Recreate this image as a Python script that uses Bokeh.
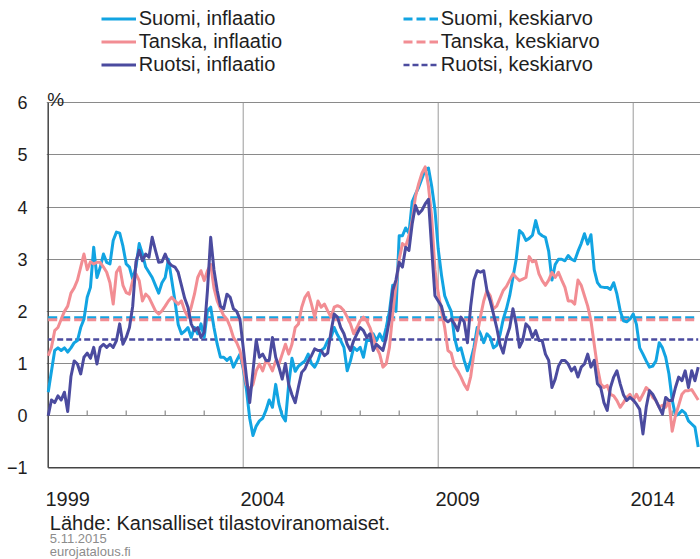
from bokeh.plotting import figure
from bokeh.models import Range1d, FixedTicker, Label, Legend, LegendItem
from bokeh.core.properties import value
from bokeh.embed import file_html
from bokeh.resources import INLINE

# ---------------- data (monthly y/y inflation, %, Jan 1999 - Sep 2015) ----------------
START_YEAR = 1999

suomi = [
    0.45, 0.85, 1.25, 1.3, 1.25, 1.3, 1.22, 1.3, 1.4, 1.44, 1.69, 1.85,      # 1999
    2.27, 2.46, 3.23, 2.65, 2.84, 3.1, 2.94, 2.91, 3.36, 3.52, 3.5, 3.25,    # 2000
    2.91, 2.85, 2.62, 2.85, 3.3, 3.1, 2.85, 2.75, 2.65, 2.5, 2.35, 2.55,     # 2001
    2.65, 3.0, 2.6, 2.2, 1.75, 1.57, 1.62, 1.69, 1.5, 1.69, 1.57, 1.76,      # 2002
    1.5, 2.01, 2.08, 1.69, 1.37, 1.12, 1.12, 1.06, 1.12, 0.93, 1.06, 1.18,   # 2003
    0.9, 0.5, -0.05, -0.38, -0.2, -0.1, -0.05, 0.1, 0.3, 0.16, 0.6, 0.22,    # 2004
    0.0, -0.1, 0.6, 1.1, 0.85, 0.95, 1.0, 1.05, 1.18, 1.0, 0.93, 1.05,       # 2005
    1.25, 1.3, 1.44, 1.5, 1.69, 1.55, 1.44, 1.31, 0.86, 1.05, 1.31, 1.25,    # 2006
    1.31, 1.12, 1.44, 1.44, 1.57, 1.44, 1.57, 1.44, 1.69, 2.0, 2.5, 2.0,     # 2007
    3.45, 3.45, 3.6, 3.5, 4.1, 4.25, 4.38, 4.55, 4.72, 4.75, 4.4, 3.95,      # 2008
    3.2, 2.7, 2.3, 2.14, 2.0, 1.5, 1.25, 1.3, 1.06, 0.86, 1.06, 1.31,        # 2009
    1.69, 1.57, 1.4, 1.57, 1.5, 1.3, 1.35, 1.55, 1.85, 2.05, 2.3, 2.65,      # 2010
    3.0, 3.55, 3.49, 3.36, 3.4, 3.46, 3.74, 3.5, 3.45, 3.42, 3.15, 2.6,      # 2011
    2.9, 3.0, 3.0, 2.97, 3.07, 3.0, 2.97, 3.15, 3.3, 3.49, 3.29, 3.47,       # 2012
    2.8, 2.55, 2.47, 2.46, 2.46, 2.42, 2.55, 2.33, 2.01, 1.82, 1.8, 1.85,    # 2013
    1.95, 1.75, 1.3, 1.18, 1.05, 0.93, 0.95, 1.05, 1.4, 1.3, 1.12, 0.8,      # 2014
    0.3, 0.0, 0.03, 0.1, 0.05, -0.1, -0.16, -0.22, -0.6,                     # 2015
]

tanska = [
    1.15, 1.31, 1.63, 1.69, 1.85, 2.0, 2.1, 2.35, 2.45, 2.6, 2.85, 3.1,      # 1999
    2.8, 2.95, 2.91, 2.94, 2.94, 2.85, 2.75, 2.55, 2.14, 2.75, 2.85, 2.5,    # 2000
    2.36, 2.33, 2.59, 2.72, 2.59, 2.2, 2.33, 2.27, 2.14, 2.01, 1.95, 2.01,   # 2001
    2.1, 2.2, 2.27, 2.2, 2.14, 2.2, 2.01, 1.89, 2.08, 2.33, 2.65, 2.78,      # 2002
    2.59, 2.78, 2.9, 2.45, 2.2, 2.05, 1.92, 1.85, 1.7, 1.5, 1.4, 1.25,       # 2003
    0.95, 0.6, 0.5, 0.6, 0.86, 0.99, 0.86, 1.05, 0.99, 0.86, 1.05, 0.99,     # 2004
    1.18, 1.37, 1.18, 1.37, 1.69, 1.76, 2.08, 2.27, 2.36, 2.14, 1.89, 2.2,   # 2005
    2.08, 2.14, 2.01, 1.89, 2.08, 2.11, 2.08, 2.01, 1.89, 1.76, 1.57, 1.69,  # 2006
    1.82, 1.89, 1.82, 1.69, 1.5, 1.31, 1.18, 0.93, 0.99, 1.31, 1.95, 2.5,    # 2007
    3.0, 3.3, 3.25, 3.45, 3.75, 4.2, 4.45, 4.65, 4.77, 4.4, 3.8, 2.8,        # 2008
    2.35, 2.01, 1.69, 1.25, 1.2, 0.95, 0.86, 0.74, 0.6, 0.5, 0.75, 1.2,      # 2009
    1.55, 1.9, 2.2, 2.4, 2.3, 2.05, 2.1, 2.25, 2.4, 2.48, 2.6, 2.72,         # 2010
    2.65, 2.59, 2.62, 2.65, 3.05, 2.95, 2.97, 2.72, 2.59, 2.5, 2.6, 2.75,    # 2011
    2.65, 2.75, 2.6, 2.46, 2.2, 2.2, 2.14, 2.6, 2.5, 2.3, 2.1, 1.82,         # 2012
    1.37, 0.93, 0.61, 0.54, 0.58, 0.41, 0.38, 0.29, 0.16, 0.25, 0.35, 0.41,  # 2013
    0.29, 0.41, 0.29, 0.41, 0.54, 0.48, 0.35, 0.29, 0.16, 0.2, 0.16, 0.29,   # 2014
    -0.3, 0.0, 0.2, 0.41, 0.48, 0.48, 0.5, 0.4, 0.3,                         # 2015
]

ruotsi = [
    0.0, 0.3, 0.25, 0.38, 0.3, 0.45, 0.08, 0.75, 1.05, 0.99, 0.8, 1.12,      # 1999
    1.2, 1.1, 1.31, 0.99, 1.31, 1.37, 1.31, 1.37, 1.31, 1.44, 1.76, 1.37,    # 2000
    1.5, 1.69, 2.1, 2.95, 3.17, 2.97, 3.1, 3.04, 3.42, 3.17, 2.94, 2.95,     # 2001
    3.1, 2.94, 2.88, 2.85, 2.75, 2.5, 2.25, 2.08, 1.76, 1.63, 1.69, 1.5,     # 2002
    1.6, 2.4, 3.42, 2.8, 2.4, 2.1, 2.05, 2.33, 2.27, 2.05, 2.0, 1.85,        # 2003
    1.31, 0.74, 0.25, 0.85, 1.45, 1.12, 1.18, 1.06, 1.06, 1.5, 1.12, 0.93,   # 2004
    0.7, 1.0, 0.6, 0.4, 0.25, 0.55, 0.83, 0.9, 1.05, 1.15, 1.28, 1.25,       # 2005
    1.25, 1.15, 1.2, 1.6, 1.95, 1.89, 1.69, 1.57, 1.37, 1.25, 1.44, 1.57,    # 2006
    1.69, 1.63, 1.5, 1.57, 1.25, 1.37, 1.31, 1.25, 1.5, 1.85, 2.4, 2.6,      # 2007
    2.94, 2.85, 3.23, 3.17, 3.68, 4.03, 3.87, 3.94, 4.06, 4.15, 3.2, 2.3,    # 2008
    2.2, 2.1, 1.85, 1.8, 1.85, 1.76, 1.63, 1.89, 1.8, 1.4, 2.1, 2.6,         # 2009
    2.78, 2.75, 2.78, 2.4, 2.2, 1.95, 1.69, 1.37, 1.2, 1.5, 1.69, 2.05,      # 2010
    1.75, 1.31, 1.44, 1.76, 1.69, 1.5, 1.63, 1.44, 1.44, 1.18, 1.06, 0.54,   # 2011
    0.7, 0.95, 1.06, 1.06, 0.99, 0.86, 0.93, 0.74, 0.93, 0.99, 1.18, 0.93,   # 2012
    1.06, 0.61, 0.54, 0.25, 0.1, 0.54, 0.74, 0.86, 0.61, 0.4, 0.29, 0.35,    # 2013
    0.3, 0.22, 0.12, -0.35, 0.16, 0.48, 0.41, 0.29, 0.16, 0.03, 0.35, 0.29,  # 2014
    0.29, 0.54, 0.74, 0.67, 0.86, 0.54, 0.86, 0.67, 0.93,                    # 2015
]

# period averages (dashed lines)
suomi_mean = 1.88
tanska_mean = 1.84
ruotsi_mean = 1.46

label_years = [1999, 2004, 2009, 2014]
grid_years = [2004, 2009, 2014]
y_ticks = [-1, 0, 1, 2, 3, 4, 5, 6]

legend_inflation = ["Suomi, inflaatio", "Tanska, inflaatio", "Ruotsi, inflaatio"]
legend_mean = ["Suomi, keskiarvo", "Tanska, keskiarvo", "Ruotsi, keskiarvo"]

source_text = "Lähde: Kansalliset tilastoviranomaiset."
date_text = "5.11.2015"
site_text = "eurojatalous.fi"

# ---------------- styling / layout ----------------
C_FI = "#12A4E2"
C_DK = "#F28D93"
C_SE = "#4B4B9F"
FONT = "Liberation Sans"
TEXT = "#1e1e1e"
GRID = "#8a8a8a"
AXIS = "#444444"

W, H = 700, 559
LEFT = 46                       # frame left edge (px)
PX_PER_UNIT = 52.14             # vertical pixels per percentage point
PX_PER_YEAR = 39.0              # horizontal pixels per year
Y_MIN, Y_MAX = -1, 6
TOP_PX, BOTTOM_PX = 102.3, 467.3   # where 6 and -1 sit on the page
Y_HIGH = Y_MAX + TOP_PX / PX_PER_UNIT
Y_LOW = Y_MIN - (H - BOTTOM_PX) / PX_PER_UNIT
X_LOW = START_YEAR - 1.7 / PX_PER_YEAR
X_HIGH = X_LOW + (W - LEFT) / PX_PER_YEAR
X_LABEL_Y = Y_MIN - 31.0 / PX_PER_UNIT

months = [START_YEAR + i / 12.0 for i in range(len(suomi))]

p = figure(width=W, height=H, x_range=Range1d(X_LOW, X_HIGH),
           y_range=Range1d(Y_LOW, Y_HIGH), output_backend="svg",
           toolbar_location=None, x_axis_location=None,
           min_border_left=LEFT, min_border_right=0, min_border_top=0,
           min_border_bottom=0, title=None)
p.outline_line_color = None
p.background_fill_color = "white"
p.border_fill_color = "white"

# y axis (labels only; the axis line is drawn over the value range below)
p.yaxis.ticker = FixedTicker(ticks=y_ticks)
p.yaxis.major_tick_out = 0
p.yaxis.major_tick_in = 0
p.yaxis.minor_tick_out = 0
p.yaxis.minor_tick_in = 0
p.yaxis.axis_line_color = None
p.yaxis.major_label_text_font = FONT
p.yaxis.major_label_text_font_size = "18px"
p.yaxis.major_label_text_color = TEXT
p.yaxis.major_label_standoff = 19

# horizontal grid (including top border at 6)
p.ygrid.ticker = FixedTicker(ticks=[t for t in y_ticks if t >= 0])
p.ygrid.grid_line_color = GRID
p.ygrid.grid_line_width = 1.2
p.xgrid.visible = False

# vertical grid lines at 5-year marks, limited to the value range
p.segment(x0=grid_years, y0=[Y_MIN] * len(grid_years), x1=grid_years,
          y1=[Y_MAX] * len(grid_years), line_color="#9a9a9a", line_width=1)

# small year ticks on the zero line
minor_years = [y for y in range(START_YEAR + 1, 2016) if y not in grid_years]
p.segment(x0=minor_years, y0=[0] * len(minor_years), x1=minor_years,
          y1=[0.1] * len(minor_years), line_color=GRID, line_width=1.2)

# axis lines
p.segment(x0=[START_YEAR], y0=[Y_MIN], x1=[START_YEAR], y1=[Y_MAX],
          line_color=AXIS, line_width=1.5)
p.segment(x0=[START_YEAR], y0=[Y_MIN], x1=[X_HIGH], y1=[Y_MIN],
          line_color=AXIS, line_width=1.5)

# x labels centred in the year
p.text(x=[y + 0.5 for y in label_years], y=[X_LABEL_Y] * len(label_years),
       text=[str(y) for y in label_years], text_font=value(FONT),
       text_font_size="20px", text_color=TEXT, text_align="center",
       text_baseline="alphabetic")

# mean lines
xs_mean = [months[0], months[-1]]
r_fi_m = p.line(xs_mean, [suomi_mean] * 2, line_color=C_FI, line_width=3, line_dash="9 4")
r_dk_m = p.line(xs_mean, [tanska_mean] * 2, line_color=C_DK, line_width=3, line_dash="9 4")
r_se_m = p.line(xs_mean, [ruotsi_mean] * 2, line_color=C_SE, line_width=2.5, line_dash="6 3")

# series
r_fi = p.line(months, suomi, line_color=C_FI, line_width=3, line_join="round")
r_dk = p.line(months, tanska, line_color=C_DK, line_width=3, line_join="round")
r_se = p.line(months, ruotsi, line_color=C_SE, line_width=3, line_join="round")

LEGEND_BOTTOM = H - 75.8        # legend bottom edge, measured up from frame bottom


def make_legend(labels, renderers, vx):
    leg = Legend(items=[LegendItem(label=l, renderers=[r]) for l, r in zip(labels, renderers)],
                 location=(vx, LEGEND_BOTTOM), orientation="vertical")
    leg.label_text_font = FONT
    leg.label_text_font_size = "20px"
    leg.label_text_color = TEXT
    leg.label_text_baseline = "middle"
    leg.glyph_width = 35
    leg.glyph_height = 23
    leg.label_height = 23
    leg.label_standoff = 3
    leg.spacing = 0
    leg.padding = 0
    leg.margin = 0
    leg.border_line_color = None
    leg.background_fill_alpha = 0
    return leg


p.add_layout(make_legend(legend_inflation, [r_fi, r_dk, r_se], 100.7 - LEFT))
p.add_layout(make_legend(legend_mean, [r_fi_m, r_dk_m, r_se_m], 402.7 - LEFT))


def screen_label(text, x, y, size, color):
    return Label(x=x, y=y, x_units="screen", y_units="screen", text=text,
                 text_font=FONT, text_font_size=size, text_color=color,
                 text_baseline="alphabetic", text_align="left")


p.add_layout(screen_label("%", 0.7, H - 99.3, "19px", TEXT))
p.add_layout(screen_label(source_text, 3.3, H - 522.7, "20px", TEXT))
p.add_layout(screen_label(date_text, 3.3, H - 537.5, "13px", "#8c8c8c"))
p.add_layout(screen_label(site_text, 3.3, H - 551.0, "13px", "#8c8c8c"))

open("out.html", "w").write(file_html(p, INLINE))
